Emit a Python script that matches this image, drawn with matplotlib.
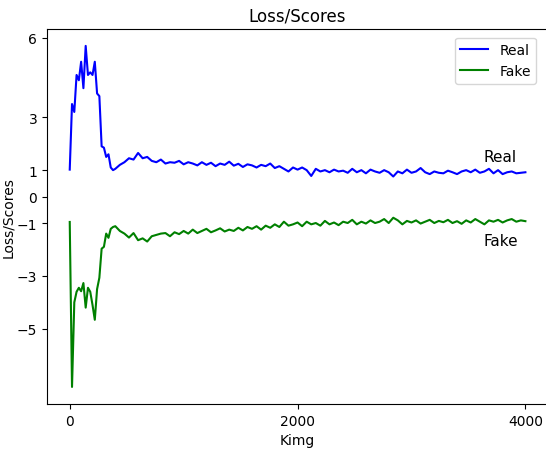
import matplotlib
matplotlib.use('Agg')
import matplotlib.pyplot as plt

# kimg steps: 20 apart at the start, 40 apart afterwards
kimg = list(range(0, 401, 20)) + list(range(440, 4001, 40))

real = [1.02, 3.5, 3.2, 4.6, 4.4, 5.1, 4.1, 5.7, 4.6, 4.7, 4.6, 5.1, 3.9, 3.8, 1.9, 1.85,
        1.5, 1.6, 1.1, 1.0, 1.05,
        1.2, 1.3, 1.45, 1.4, 1.65, 1.45, 1.5, 1.35, 1.3, 1.4, 1.25, 1.3, 1.28, 1.35, 1.22,
        1.3, 1.25, 1.18, 1.3, 1.2, 1.28, 1.15, 1.25, 1.2, 1.32, 1.17, 1.24, 1.12, 1.22, 1.18,
        1.1, 1.2, 1.15, 1.25, 1.08, 1.15, 1.05, 0.95, 1.1, 1.02, 1.1, 1.0, 0.78, 1.05, 0.95,
        1.0, 0.92, 1.02, 0.95, 0.98, 0.9, 1.05, 0.92, 1.0, 0.88, 1.02, 0.95, 0.9, 1.0, 0.92,
        0.76, 0.95, 0.88, 1.02, 0.9, 0.95, 1.08, 0.92, 0.85, 0.95, 0.9, 0.88, 0.98, 0.92, 0.85,
        0.95, 1.0, 0.92, 1.02, 0.9, 0.95, 1.05, 0.88, 1.0, 0.85, 0.92, 0.95, 0.88, 0.9, 0.92]

fake = [-0.96, -7.2, -4.0, -3.6, -3.45, -3.58, -3.27, -4.2, -3.45, -3.6, -4.1, -4.66, -3.5,
        -3.07, -1.97, -1.9, -1.4, -1.56, -1.22, -1.15, -1.12,
        -1.3, -1.4, -1.55, -1.38, -1.65, -1.58, -1.7, -1.5, -1.45, -1.4, -1.38, -1.5, -1.35,
        -1.42, -1.3, -1.4, -1.25, -1.38, -1.3, -1.22, -1.35, -1.28, -1.2, -1.32, -1.25, -1.3,
        -1.18, -1.28, -1.15, -1.22, -1.12, -1.25, -1.1, -1.18, -1.05, -1.15, -0.95, -1.1,
        -1.05, -0.98, -1.12, -0.95, -1.05, -1.0, -1.1, -0.92, -1.05, -0.98, -1.08, -0.95,
        -1.0, -0.88, -1.05, -0.95, -1.02, -0.9, -1.0, -0.95, -0.85, -1.0, -0.8, -0.9, -1.05,
        -0.92, -0.98, -0.9, -1.02, -0.95, -0.88, -1.0, -0.92, -0.97, -0.88, -1.0, -0.93,
        -1.03, -0.9, -0.98, -0.85, -0.95, -1.05, -0.9, -0.95, -0.88, -0.98, -0.9, -0.85,
        -0.95, -0.9, -0.93]

yticks = [6, 3, 1, 0, -1, -3, -5]
xticks = [0, 2000, 4000]

fig = plt.figure(figsize=(5.46, 4.52), dpi=100)
ax = fig.add_axes([0.086, 0.104, 0.918, 0.83])
ax.plot(kimg, real, color='blue', lw=1.5, label='Real')
ax.plot(kimg, fake, color='green', lw=1.5, label='Fake')
ax.text(3780, 1.5, 'Real', ha='center', va='center', fontsize=11)
ax.text(3780, -1.65, 'Fake', ha='center', va='center', fontsize=11)
ax.set_yticks(yticks)
ax.set_xticks(xticks)
ax.set_title('Loss/Scores', fontsize=12)
ax.set_xlabel('Kimg')
ax.set_ylabel('Loss/Scores', labelpad=1)
ax.legend(loc='upper right', bbox_to_anchor=(0.99, 0.995))
fig.savefig('out.png', dpi=100)
